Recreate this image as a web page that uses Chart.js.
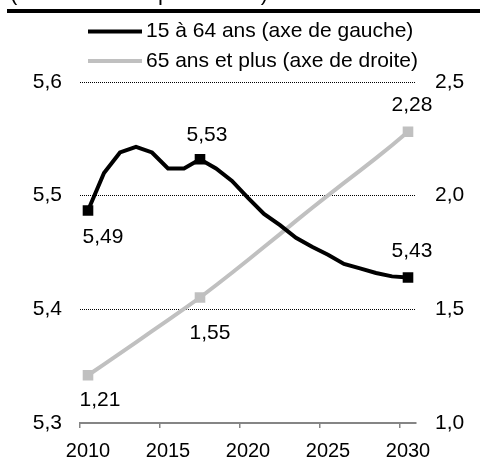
<!DOCTYPE html>
<html lang="fr">
<head>
<meta charset="UTF-8">
<title>Population 15-64 ans et 65 ans et plus</title>
<script src="https://cdn.jsdelivr.net/npm/chart.js"></script>
<style>
    body { margin: 0; background: #fff; }
    .wrap { position: relative; width: 480px; height: 463px; }
</style>
</head>
<body>
<div class="wrap">
    <canvas id="chart"></canvas>
</div>
<script>
    // données
    const years = ['2010', '2011', '2012', '2013', '2014', '2015', '2016', '2017', '2018', '2019', '2020',
        '2021', '2022', '2023', '2024', '2025', '2026', '2027', '2028', '2029', '2030'];
    const actifs = [5.487, 5.520, 5.538, 5.543, 5.538, 5.524, 5.524, 5.532, 5.524, 5.513, 5.498,
        5.484, 5.474, 5.463, 5.455, 5.448, 5.440, 5.436, 5.432, 5.429, 5.428];
    const seniors = [1.21, 1.258, 1.306, 1.355, 1.404, 1.453, 1.502, 1.552, 1.606, 1.661, 1.717,
        1.774, 1.831, 1.889, 1.946, 2.001, 2.056, 2.11, 2.165, 2.222, 2.281];
    const markedIdx = [0, 7, 20];
    const seriesNames = ['15 à 64 ans (axe de gauche)', '65 ans et plus (axe de droite)'];
    const leftTicks = [5.3, 5.4, 5.5, 5.6];
    const rightTicks = [1.0, 1.5, 2.0, 2.5];
    const unitText = '(en millions de personnes)';

    const FONT = '"Liberation Sans", Arial, sans-serif';
    const comma = (v, d) => v.toFixed(d).replace('.', ',');

    // titre coupé, filet, légende, étiquettes de données
    const decor = {
        id: 'decor',
        afterDraw(chart, args, opts) {
            const c = chart.ctx;
            c.save();
            c.fillStyle = '#000';
            c.font = '22px ' + FONT;
            c.textBaseline = 'alphabetic';
            c.fillText(unitText, 10, 0);
            c.fillRect(7, 9, 473, 4);

            c.font = '21px ' + FONT;
            chart.data.datasets.forEach((ds, i) => {
                const y = 31.5 + i * 29.5;
                c.strokeStyle = ds.borderColor;
                c.lineWidth = 4;
                c.beginPath();
                c.moveTo(88, y);
                c.lineTo(142, y);
                c.stroke();
                c.fillStyle = '#000';
                c.fillText(ds.label, 146, y + 5.5);
            });

            c.textAlign = 'center';
            c.textBaseline = 'middle';
            opts.labels.forEach(l => {
                const meta = chart.getDatasetMeta(l.ds);
                const pt = meta.data[l.i];
                const v = chart.data.datasets[l.ds].data[l.i];
                c.fillText(comma(v, 2), pt.x + l.dx, pt.y + l.dy);
            });
            c.restore();
        }
    };

    const pointR = ctx => markedIdx.includes(ctx.dataIndex) ? 7.5 : 0;

    new Chart(document.getElementById('chart'), {
        type: 'line',
        data: {
            labels: years,
            datasets: [{
                label: seriesNames[0],
                data: actifs,
                yAxisID: 'y',
                borderColor: '#000000',
                backgroundColor: '#000000',
                borderWidth: 4,
                tension: 0,
                pointStyle: 'rect',
                pointRadius: pointR,
                pointBorderWidth: 0,
                pointBackgroundColor: '#000000'
            }, {
                label: seriesNames[1],
                data: seniors,
                yAxisID: 'y1',
                borderColor: '#c0c0c0',
                backgroundColor: '#c0c0c0',
                borderWidth: 4,
                tension: 0,
                pointStyle: 'rect',
                pointRadius: pointR,
                pointBorderWidth: 0,
                pointBackgroundColor: '#c0c0c0'
            }]
        },
        options: {
            responsive: true,
            maintainAspectRatio: false,
            animation: false,
            events: [],
            layout: { padding: { top: 82, left: 0, right: 0, bottom: 0 } },
            plugins: {
                legend: { display: false },
                tooltip: { enabled: false },
                decor: {
                    labels: [
                        { ds: 0, i: 0, dx: 15, dy: 27 },
                        { ds: 0, i: 7, dx: 7, dy: -24 },
                        { ds: 0, i: 20, dx: 4, dy: -26 },
                        { ds: 1, i: 0, dx: 12, dy: 25 },
                        { ds: 1, i: 7, dx: 10, dy: 36 },
                        { ds: 1, i: 20, dx: 4, dy: -27 }
                    ]
                }
            },
            scales: {
                x: {
                    offset: true,
                    afterFit: s => { s.height = 40; },
                    border: { display: true, color: '#858585', width: 2 },
                    grid: {
                        offset: true,
                        drawOnChartArea: false,
                        drawTicks: true,
                        tickLength: 5,
                        lineWidth: 1.5,
                        color: ctx => ctx.index !== undefined && ctx.index % 5 === 0 ? '#858585' : 'rgba(0,0,0,0)'
                    },
                    ticks: {
                        autoSkip: false,
                        maxRotation: 0,
                        padding: 11,
                        color: '#000',
                        font: { family: FONT, size: 20 },
                        callback: (v, i) => i % 5 === 0 ? years[i] : ''
                    }
                },
                y: {
                    position: 'left',
                    min: leftTicks[0],
                    max: leftTicks[leftTicks.length - 1],
                    afterFit: s => { s.width = 80; },
                    afterBuildTicks: s => { s.ticks = leftTicks.map(v => ({ value: v })); },
                    border: { display: false, dash: [1, 1] },
                    grid: {
                        drawTicks: false,
                        lineWidth: 1,
                        color: ctx => ctx.tick && ctx.tick.value > leftTicks[0] + 0.01 ? '#000' : 'rgba(0,0,0,0)'
                    },
                    ticks: {
                        padding: 18,
                        color: '#000',
                        font: { family: FONT, size: 21 },
                        callback: v => comma(v, 1)
                    }
                },
                y1: {
                    position: 'right',
                    min: rightTicks[0],
                    max: rightTicks[rightTicks.length - 1],
                    afterFit: s => { s.width = 64; },
                    afterBuildTicks: s => { s.ticks = rightTicks.map(v => ({ value: v })); },
                    border: { display: false },
                    grid: { display: false, drawTicks: false },
                    ticks: {
                        padding: 19,
                        color: '#000',
                        font: { family: FONT, size: 21 },
                        callback: v => comma(v, 1)
                    }
                }
            }
        },
        plugins: [decor]
    });
</script>
</body>
</html>
